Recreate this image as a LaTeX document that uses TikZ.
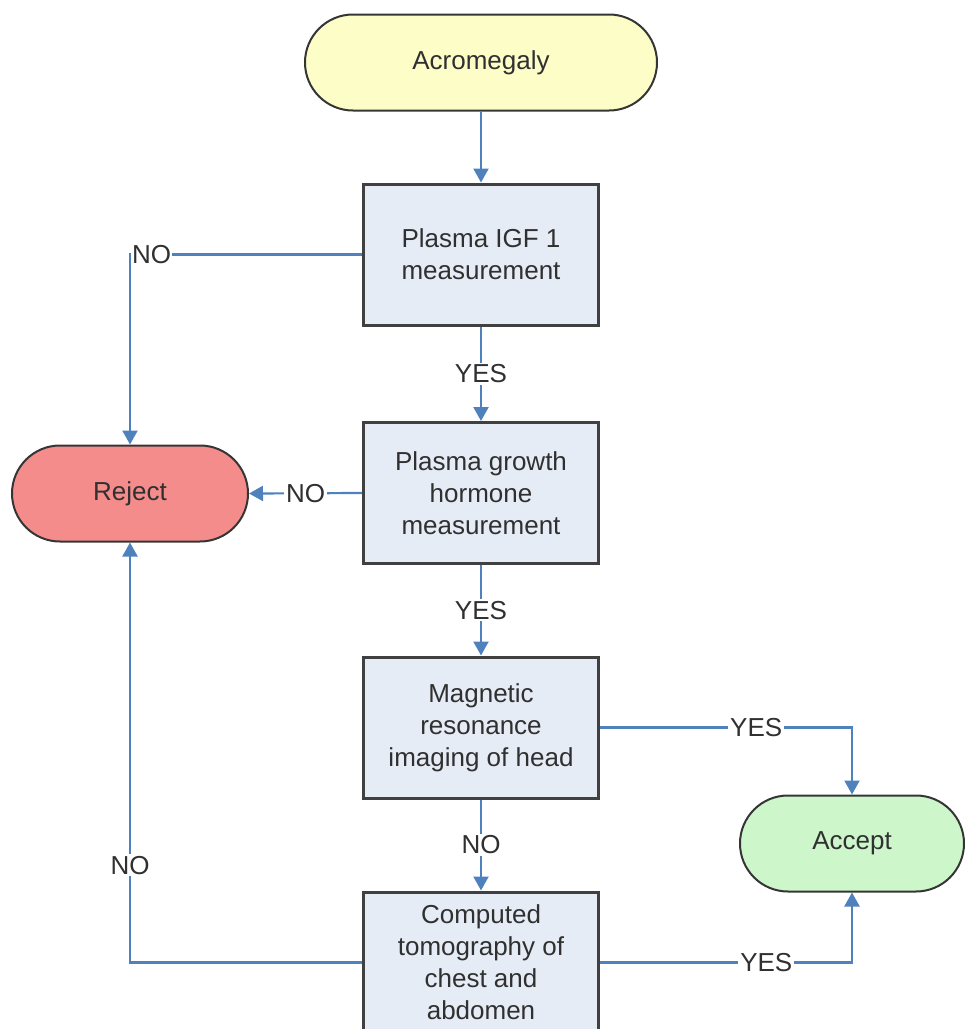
\documentclass[tikz,border=0pt]{standalone}
\usepackage{fontspec}
\setmainfont{Liberation Sans}
\usetikzlibrary{arrows.meta,shapes.misc}

\definecolor{flow}{HTML}{4F81BD}
\definecolor{boxfill}{HTML}{E6ECF6}
\definecolor{boxline}{HTML}{404040}
\definecolor{termline}{HTML}{353535}
\definecolor{startfill}{HTML}{FDFDC8}
\definecolor{rejectfill}{HTML}{F48C8C}
\definecolor{acceptfill}{HTML}{CDF7CB}
\definecolor{txt}{HTML}{303030}

\begin{document}
\begin{tikzpicture}[x=1pt,y=-1pt,
  every node/.style={text=txt, font=\fontsize{26}{32}\selectfont},
  stepbox/.style={draw=boxline, line width=3pt, fill=boxfill,
    minimum width=235pt, minimum height=141pt, align=center, inner sep=0pt},
  terminal/.style={rounded rectangle, draw=termline, line width=2pt,
    minimum height=96pt, align=center, inner sep=0pt},
  link/.style={draw=flow, line width=2.2pt},
  arr/.style={link, -{Triangle[length=14pt,width=15pt]}},
  tag/.style={fill=white, inner sep=2pt}
]
\clip (0,0) rectangle (965,1029);
\useasboundingbox (0,0) rectangle (965,1029);

% start / end terminals
\node[terminal, fill=startfill, minimum width=352pt] (start) at (481,62.5) {Acromegaly};
\node[terminal, fill=rejectfill, minimum width=236pt] (reject) at (130,493.5) {Reject};
\node[terminal, fill=acceptfill, minimum width=224pt] (accept) at (852,843.5) {Accept};

% test steps
\node[stepbox] (igf) at (481,254.5) {Plasma IGF 1\\measurement};
\node[stepbox] (gh) at (481,493) {Plasma growth\\hormone\\measurement};
\node[stepbox] (mri) at (481,727.5) {Magnetic\\resonance\\imaging of head};
\node[stepbox] (ct) at (481,962.5) {Computed\\tomography of\\chest and\\abdomen};

% connectors
\draw[arr] (start) -- (igf);
\draw[arr] (igf) -- node[tag] {YES} (gh);
\draw[arr] (gh) -- node[tag] {YES} (mri);
\draw[arr] (mri) -- node[tag] {NO} (ct);

\draw[arr] (igf.west) -| node[tag, anchor=west, inner sep=1pt, pos=0.5] {NO} (reject.north);
\draw[arr] (gh.west) -- node[tag] {NO} (reject.east);
\draw[arr] (ct.west) -| node[tag, pos=0.616] {NO} (reject.south);

\draw[arr] (mri.east) -| node[tag, pos=0.31] {YES} (accept.north);
\draw[arr] (ct.east) -| node[tag, pos=0.33] {YES} (accept.south);
\end{tikzpicture}
\end{document}
